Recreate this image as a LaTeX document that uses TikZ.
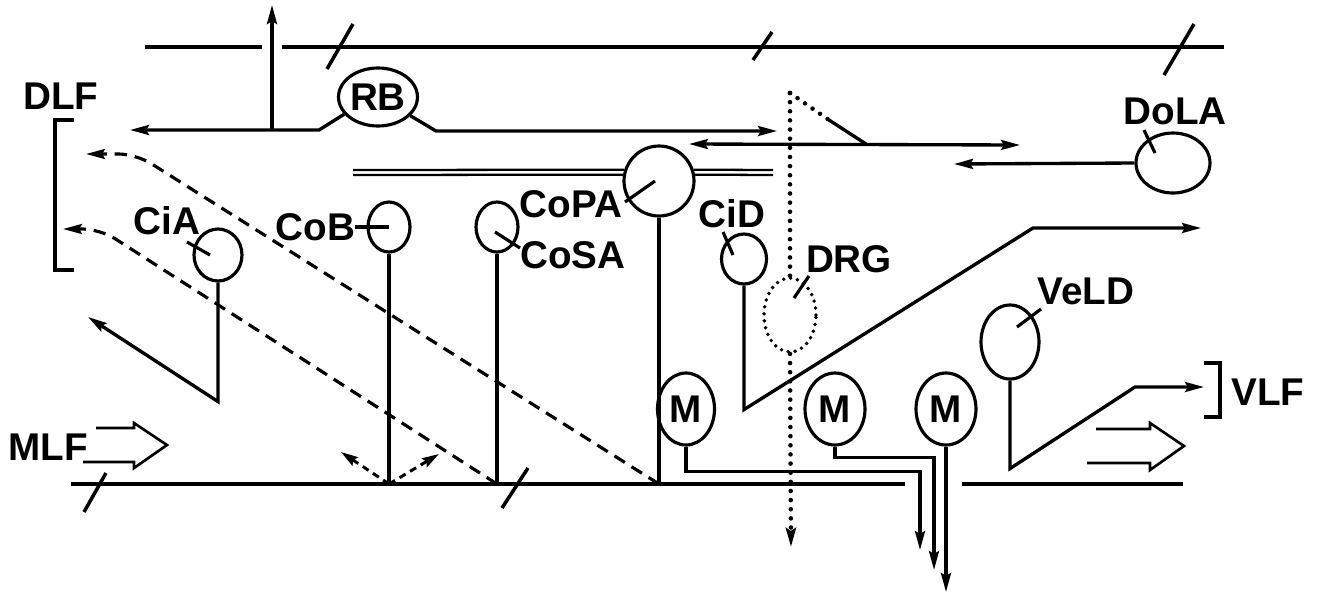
\documentclass[tikz,border=0pt]{standalone}
\usepackage{fontspec}
\setmainfont{Liberation Sans}
\usepackage{tikz}
\usetikzlibrary{shapes.geometric, arrows.meta, positioning, calc}
\tikzset{
  cell/.style     ={ellipse, draw, line width=1.8pt, inner sep=0pt, fill=white,
                    font=\fontsize{22}{24}\selectfont\bfseries},
  lbl/.style      ={inner sep=0pt, font=\fontsize{22}{24}\selectfont\bfseries},
  axon/.style     ={line width=1.9pt},
  comm/.style     ={line width=1.3pt},
  tract/.style    ={line width=2.4pt},
  slashcut/.style ={line width=2pt},
  lbltick/.style  ={line width=1.8pt},
  bracket/.style  ={line width=2.2pt},
  hollow/.style   ={line width=1.5pt, line join=miter},
  flow/.style     ={-{Stealth[length=3.8mm, width=2mm, inset=0.6mm]}, line width=1.9pt},
  biflow/.style   ={{Stealth[length=3.8mm, width=2mm, inset=0.6mm]}-{Stealth[length=3.8mm, width=2mm, inset=0.6mm]}, line width=1.9pt},
  proj/.style     ={flow, line width=1.8pt, dash pattern=on 7pt off 4.5pt},
  shortproj/.style={-{Stealth[length=3.4mm, width=2mm, inset=0.5mm]}, line width=1.7pt, dash pattern=on 4pt off 3pt},
  sens/.style     ={line width=2.6pt, dash pattern=on 0pt off 5.2pt, line cap=round},
  sensflow/.style ={sens, -{Stealth[length=3.8mm, width=2mm, inset=0.6mm]}},
}

\begin{document}
\begin{tikzpicture}[x=0.02cm, y=-0.02cm]
  \useasboundingbox (0,0) rectangle (1319,596);
  \node[cell, minimum width=14.8mm, minimum height=11.6mm] (rb) at (378,97) {RB};
  \node[cell, minimum width=9.6mm, minimum height=10.4mm] (cia) at (218,255) {};
  \node[cell, minimum width=8.4mm, minimum height=10mm] (cob) at (389,227) {};
  \node[cell, minimum width=8.4mm, minimum height=10mm] (cosa) at (497,227) {};
  \node[cell, minimum width=14mm, minimum height=14mm] (copa) at (659,181) {};
  \node[cell, minimum width=9mm, minimum height=10mm] (cid) at (744,259) {};
  \node[cell, line width=2.2pt, dash pattern=on 0pt off 4pt, line cap=round,
        minimum width=10.4mm, minimum height=14.8mm] (drg) at (790,315) {};
  \node[cell, minimum width=14.8mm, minimum height=12mm] (dola) at (1173,163) {};
  \node[cell, minimum width=11.6mm, minimum height=14.8mm] (veld) at (1010,342) {};
  \node[cell, minimum width=11.4mm, minimum height=14.4mm] (m1) at (686,409) {M};
  \node[cell, minimum width=12mm, minimum height=14.4mm] (m2) at (835,409) {M};
  \node[cell, minimum width=12mm, minimum height=14.4mm] (m3) at (946,409) {M};

  \node[lbl] (dlf) at (61,96) {DLF};
  \node[lbl] (cialbl) at (167,221) {CiA};
  \node[lbl, left=2.2mm of cob] (coblbl) {CoB};
  \node[lbl] (cosalbl) at (573,255) {CoSA};
  \node[lbl] (copalbl) at (571,204) {CoPA};
  \node[lbl] (cidlbl) at (732,214) {CiD};
  \node[lbl] (drglbl) at (849,259) {DRG};
  \node[lbl] (dolalbl) at (1175,111) {DoLA};
  \node[lbl] (veldlbl) at (1086,291) {VeLD};
  \node[lbl] (vlf) at (1268,392) {VLF};
  \node[lbl] (mlf) at (48,447) {MLF};

  \coordinate (rootL) at (71,484);
  \coordinate (rootR) at (1183,484);
  \coordinate (rbfork) at (272,130);
  \coordinate (drgtop) at (790,93);
  \coordinate (cobfoot) at (cob.south |- rootL);

  \draw[tract] (145,47) -- (262,47);
  \draw[tract] (282,47) -- (1224,47);
  \draw[slashcut] (327,69) -- (353,24);
  \draw[slashcut] (753,60) -- (772,32);
  \draw[slashcut] (1164,75) -- (1194,24);
  \draw[tract] (rootL) -- (905,484);
  \draw[tract] (962,484) -- (rootR);
  \draw[slashcut] (84,512) -- (106,473);
  \draw[slashcut] (502,508) -- (528,468);

  \draw[flow] (rb.-153) -- (319,130) -- (130,130);
  \draw[flow] (rb.-30) -- (436,131) -- (777,131);
  \draw[flow] (rbfork) -- (272,5);

  \draw[comm] (353,170) -- (copa.162);
  \draw[comm] (353,175) -- (copa.170);
  \draw[comm] (copa.18) -- (773,170);
  \draw[comm] (copa.10) -- (773,175);

  \draw[flow] (cia.south) -- ++(0,119) -- (88,317);
  \draw[axon] (cob.south) -- (cobfoot);
  \draw[axon] (cosa.south) -- (cosa.south |- rootL);
  \draw[axon] (copa.south) -- (copa.south |- rootL);
  \draw[flow] (cid.south) -- ++(0,124) -- (1033,228) -- (1201,228);
  \draw[flow] (veld.south) -- ++(0,88) -- (1135,387) -- (1204,387);
  \draw[flow] (dola.west) -- (954,164);
  \draw[flow] (m1.south) -- ++(0,25) -| (920,550);
  \draw[flow] (m2.south) -- ++(0,11) -| (934,570);
  \draw[flow] (m3.south) -- (946,592);

  \draw[sens] (drgtop) -- (drg.north);
  \draw[sensflow] (drg.south) -- (791,547);
  \draw[sens] (drgtop) -- (829,120);
  \draw[axon] (829,120) -- (866,144);
  \draw[biflow] (689,144) -- (1020,145);

  \draw[proj, rounded corners=10pt] (copa.south |- rootL) -- (136,154) -- (86,154);
  \draw[proj, rounded corners=10pt] (cosa.south |- rootL) -- (100,229) -- (63,229);
  \draw[shortproj] (cobfoot) -- (341,452);
  \draw[shortproj] (cobfoot) -- (439,454);

  \draw[hollow] (96,428) -- (134,428) -- (134,423) -- (167,445) -- (134,468) -- (134,462) -- (83,462);
  \draw[hollow] (1096,429) -- (1150,429) -- (1150,423) -- (1184,446) -- (1150,470) -- (1150,463) -- (1087,463);

  \draw[bracket] (74,120) -- (55,120) -- (55,270) -- (74,270);
  \draw[bracket] (1204,363) -- (1220,363) -- (1220,417) -- (1204,417);

  \draw[lbltick] ([shift={(-8,0)}]cia.center) -- ++(-23,-13);
  \draw[lbltick] (coblbl.east) -- (cob.center);
  \draw[lbltick] ([shift={(-2,5)}]cosa.center) -- ++(25,16);
  \draw[lbltick] ([shift={(-4,0)}]copa.center) -- ++(-30,21);
  \draw[lbltick] ([shift={(-11,-4)}]cid.center) -- ++(-10,-23);
  \draw[lbltick] ([shift={(4,-17)}]drg.center) -- ++(15,-22);
  \draw[lbltick] ([shift={(-18,-10)}]dola.center) -- ++(-11,-23);
  \draw[lbltick] ([shift={(7,-15)}]veld.center) -- ++(24,-18);
\end{tikzpicture}
\end{document}
